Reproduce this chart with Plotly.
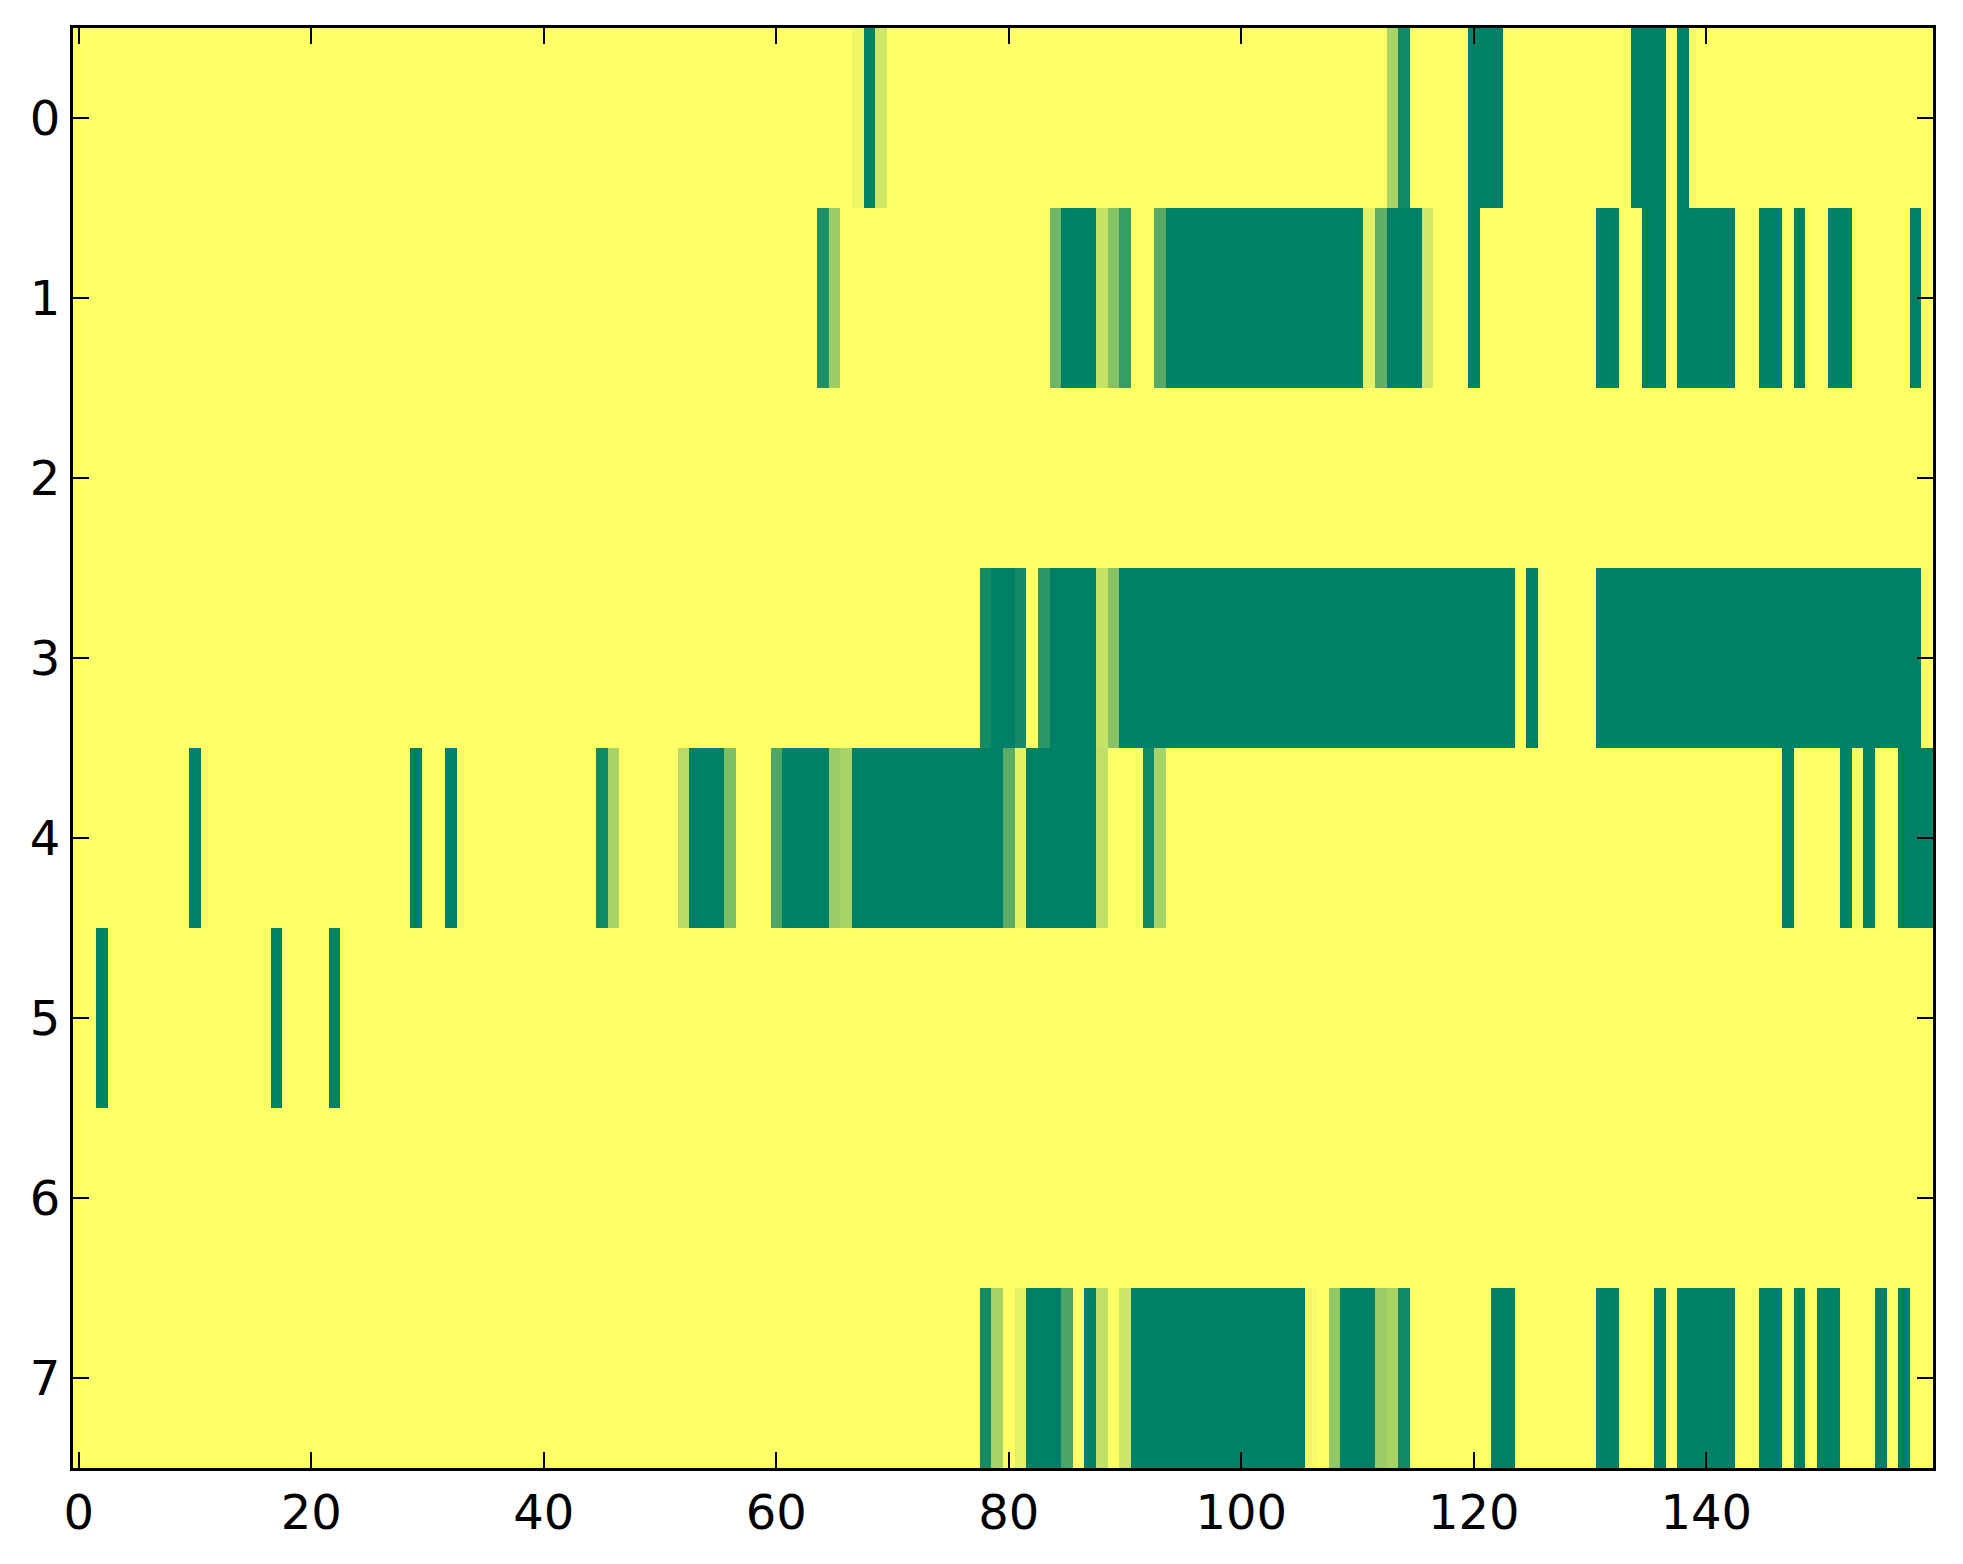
from plotly import graph_objects as go

N_COLS = 160
N_ROWS = 8

# runs of non-yellow cells per row: (first column, last column, value)
row_0 = [(67, 67, 0.93), (68, 68, 0.0), (69, 69, 0.8), (113, 113, 0.66), (114, 114, 0.07),
         (120, 122, 0.0), (134, 136, 0.0), (138, 138, 0.0)]
row_1 = [(64, 64, 0.12), (65, 65, 0.61), (84, 84, 0.43), (85, 87, 0.0), (88, 88, 0.77),
         (89, 89, 0.53), (90, 90, 0.22), (93, 93, 0.33), (94, 110, 0.0), (111, 111, 0.89),
         (112, 112, 0.38), (113, 115, 0.0), (116, 116, 0.82), (120, 120, 0.0), (131, 132, 0.0),
         (135, 136, 0.0), (138, 142, 0.0), (145, 146, 0.0), (148, 148, 0.0), (151, 152, 0.0),
         (158, 158, 0.0)]
row_2 = []
row_3 = [(78, 78, 0.08), (79, 80, 0.0), (81, 81, 0.08), (83, 83, 0.17), (84, 87, 0.0),
         (88, 88, 0.77), (89, 89, 0.53), (90, 123, 0.0), (125, 125, 0.0), (131, 158, 0.0)]
row_4 = [(10, 10, 0.0), (29, 29, 0.0), (32, 32, 0.0), (45, 45, 0.07), (46, 46, 0.66),
         (52, 52, 0.72), (53, 55, 0.0), (56, 56, 0.49), (60, 60, 0.3), (61, 64, 0.0),
         (65, 65, 0.6), (66, 66, 0.66), (67, 79, 0.0), (80, 80, 0.36), (81, 81, 0.89),
         (82, 87, 0.0), (88, 88, 0.75), (92, 92, 0.07), (93, 93, 0.66), (147, 147, 0.0),
         (152, 152, 0.0), (154, 154, 0.0), (157, 159, 0.0)]
row_5 = [(2, 2, 0.0), (17, 17, 0.0), (22, 22, 0.0)]
row_6 = []
row_7 = [(78, 78, 0.09), (79, 79, 0.65), (81, 81, 0.9), (82, 84, 0.0), (85, 85, 0.29),
         (87, 87, 0.0), (88, 88, 0.75), (90, 90, 0.8), (91, 105, 0.0), (106, 106, 0.96),
         (108, 108, 0.57), (109, 111, 0.0), (112, 112, 0.61), (113, 113, 0.66), (114, 114, 0.07),
         (122, 123, 0.0), (131, 132, 0.0), (136, 136, 0.0), (138, 142, 0.0), (145, 146, 0.0),
         (148, 148, 0.0), (150, 151, 0.0), (155, 155, 0.0), (157, 157, 0.0)]

rows = [row_0, row_1, row_2, row_3, row_4, row_5, row_6, row_7]
x_ticks = [0, 20, 40, 60, 80, 100, 120, 140]
y_ticks = [0, 1, 2, 3, 4, 5, 6, 7]

# matplotlib "summer": green (0, .5, .4) -> yellow (1, 1, .4)
SUMMER = [[0.0, "rgb(0,128,102)"], [1.0, "rgb(255,255,102)"]]


def build_matrix():
    z = []
    for runs in rows:
        line = [1.0] * N_COLS
        for start, stop, value in runs:
            for c in range(start, stop + 1):
                line[c] = value
        z.append(line)
    return z


z = build_matrix()

fig = go.Figure()
fig.add_trace(go.Heatmap(z=z, x=list(range(N_COLS)), y=list(range(N_ROWS)),
                         colorscale=SUMMER, zmin=0, zmax=1, showscale=False,
                         hoverinfo="skip"))

axis_style = dict(showline=True, linecolor="black", linewidth=3, mirror="allticks",
                  ticks="inside", ticklen=16, tickwidth=2, tickcolor="black",
                  showgrid=False, zeroline=False,
                  tickfont=dict(family="DejaVu Sans", size=48, color="black"))

fig.update_xaxes(range=[-0.5, N_COLS - 0.5], tickvals=x_ticks, **axis_style)
fig.update_yaxes(range=[N_ROWS - 0.5, -0.5], tickvals=y_ticks, **axis_style)

# page body adds an 8px margin, so the figure is sized to fit inside it
fig.update_layout(width=1947, height=1548, plot_bgcolor="white", paper_bgcolor="white",
                  margin=dict(l=65, r=22, t=20, b=88))

fig.write_html("out.html")
